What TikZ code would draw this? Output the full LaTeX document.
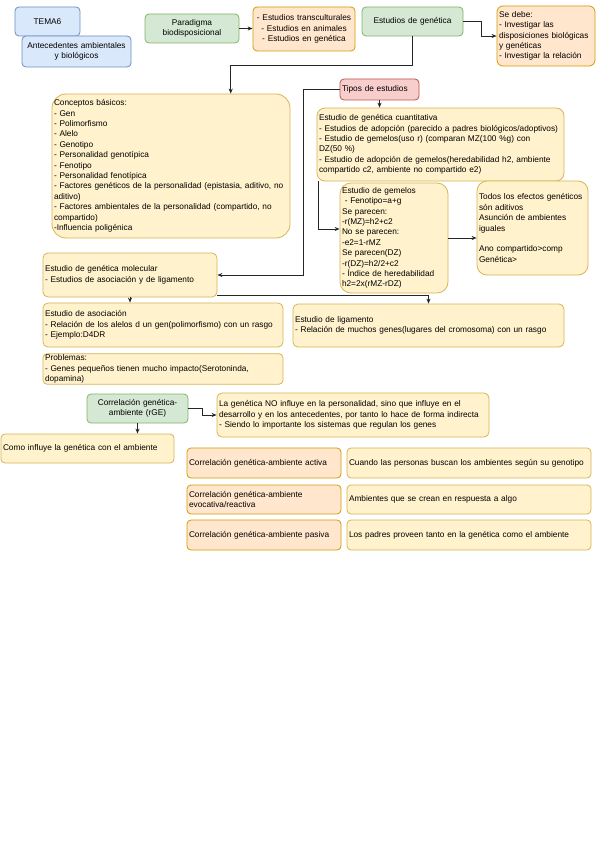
\documentclass[tikz,border=0pt]{standalone}
\usepackage{fontspec}
\setmainfont{Liberation Sans}
\usetikzlibrary{arrows.meta,calc}
\definecolor{yelfill}{HTML}{FFF2CC}
\definecolor{yeldraw}{HTML}{D6B656}
\definecolor{orgfill}{HTML}{FFE6CC}
\definecolor{orgdraw}{HTML}{D79B00}
\definecolor{grnfill}{HTML}{D5E8D4}
\definecolor{grndraw}{HTML}{82B366}
\definecolor{blufill}{HTML}{DAE8FC}
\definecolor{bludraw}{HTML}{6C8EBF}
\definecolor{redfill}{HTML}{F8CECC}
\definecolor{reddraw}{HTML}{B85450}
\begin{document}
\begin{tikzpicture}[x=1pt, y=-1pt,
        box/.style={rectangle, rounded corners=4pt, draw, line width=0.8pt, align=left,
            inner xsep=2pt, inner ysep=1pt, font=\fontsize{8.3}{10.4}\selectfont},
        yel/.style={box, fill=yelfill, draw=yeldraw},
        org/.style={box, fill=orgfill, draw=orgdraw},
        grn/.style={box, fill=grnfill, draw=grndraw, align=center},
        blu/.style={box, fill=blufill, draw=bludraw, align=center},
        rd/.style={box, fill=redfill, draw=reddraw},
        arrow/.style={-{Stealth[length=5pt,width=4pt]}, line width=0.8pt, draw=black!85}
    ]
        \path[use as bounding box, fill=white] (0,0) rectangle (599,848);

        % Nodes
        \node[blu, text width=61pt, minimum height=29pt] (tema) at (47.5,21.5) {TEMA6};
        \node[blu, text width=105pt, minimum height=31pt] (antec) at (76.5,51.5) {Antecedentes ambientales\\y biológicos};
        \node[grn, text width=90pt, minimum height=29pt] (paradigma) at (192,28.5) {Paradigma\\biodisposicional};
        \node[org, align=center, text width=98pt, minimum height=44pt] (transc) at (304,29) {- Estudios transculturales\\- Estudios en animales\\- Estudios en genética};
        \node[grn, text width=97pt, minimum height=29pt] (genetica) at (412.5,21.5) {Estudios de genética};
        \node[org, text width=94pt, minimum height=60pt, rounded corners=6pt] (sedebe) at (546,36) {Se debe:\\- Investigar las\\disposiciones biológicas\\y genéticas\\- Investigar la relación};
        \node[rd, text width=75pt, minimum height=21pt] (tipos) at (379.5,89.5) {Tipos de estudios};
        \node[yel, text width=234pt, minimum height=144pt, rounded corners=14pt] (concepts) at (171,166) {Conceptos básicos:\\- Gen\\- Polimorfismo\\- Alelo\\- Genotipo\\- Personalidad genotípica\\- Fenotipo\\- Personalidad fenotípica\\- Factores genéticos de la personalidad (epistasia, aditivo, no\\aditivo)\\- Factores ambientales de la personalidad (compartido, no\\compartido)\\-Influencia poligénica};
        \node[yel, text width=243pt, minimum height=73pt, rounded corners=8pt] (cuant) at (440.5,144.5) {Estudio de genética cuantitativa\\- Estudios de adopción (parecido a padres biológicos/adoptivos)\\- Estudio de gemelos(uso r) (comparan MZ(100 \%g) con\\DZ(50 \%)\\- Estudio de adopción de gemelos(heredabilidad h2, ambiente\\compartido c2, ambiente no compartido e2)};
        \node[yel, text width=104pt, minimum height=110pt, rounded corners=11pt] (gemelos) at (394,238) {Estudio de gemelos\\\ - Fenotipo=a+g\\Se parecen:\\-r(MZ)=h2+c2\\No se parecen:\\-e2=1-rMZ\\Se parecen(DZ)\\-r(DZ)=h2/2+c2\\- Índice de heredabilidad\\h2=2x(rMZ-rDZ)};
        \node[yel, text width=107pt, minimum height=94pt, rounded corners=10pt] (todos) at (532.5,228) {Todos los efectos genéticos\\són aditivos\\Asunción de ambientes\\iguales\\[10.4pt]Ano compartido>comp\\Genética>};
        \node[yel, text width=170pt, minimum height=44pt, rounded corners=5pt] (molec) at (130,275) {Estudio de genética molecular\\- Estudios de asociación y de ligamento};
        \node[yel, text width=236pt, minimum height=44pt, rounded corners=5pt] (asoc) at (163,325) {Estudio de asociación\\- Relación de los alelos d un gen(polimorfismo) con un rasgo\\- Ejemplo:D4DR};
        \node[yel, text width=236pt, minimum height=30pt] (probl) at (163,369) {Problemas:\\- Genes pequeños tienen mucho impacto(Serotoninda,\\dopamina)};
        \node[yel, text width=267pt, minimum height=43pt, rounded corners=5pt] (ligam) at (428.5,325.5) {Estudio de ligamento\\- Relación de muchos genes(lugares del cromosoma) con un rasgo};
        \node[grn, text width=97pt, minimum height=29pt] (rge) at (137.5,408.5) {Correlación genética-\\ambiente (rGE)};
        \node[yel, text width=169pt, minimum height=29pt] (como) at (87.5,448.5) {Como influye la genética con el ambiente};
        \node[yel, text width=268pt, minimum height=44pt, rounded corners=5pt] (noinf) at (353,415) {La genética NO influye en la personalidad, sino que influye en el\\desarrollo y en los antecedentes, por tanto lo hace de forma indirecta\\- Siendo lo importante los sistemas que regulan los genes};
        \node[org, text width=150pt, minimum height=30pt] (activa) at (264,463) {Correlación genética-ambiente activa};
        \node[yel, text width=240pt, minimum height=30pt] (activad) at (469,463) {Cuando las personas buscan los ambientes según su genotipo};
        \node[org, text width=150pt, minimum height=29pt] (evoc) at (264,499.5) {Correlación genética-ambiente\\evocativa/reactiva};
        \node[yel, text width=240pt, minimum height=29pt] (evocd) at (469,499.5) {Ambientes que se crean en respuesta a algo};
        \node[org, text width=150pt, minimum height=30pt] (pasiva) at (264,535) {Correlación genética-ambiente pasiva};
        \node[yel, text width=240pt, minimum height=30pt] (pasivad) at (469,535) {Los padres proveen tanto en la genética como el ambiente};

        % Arrows
        \draw[arrow] (paradigma.east) -- (paradigma.east -| transc.west);
        \draw[arrow] (genetica.east) -- ++(18,0) |- (sedebe.west);
        \draw[arrow] (genetica.south) -- ++(0,29) -| ($(concepts.north east)!0.5!(concepts.north)$);
        \draw[arrow] (tipos.west) -- ++(-36,0) |- (molec.east);
        \draw[arrow] (tipos.south) -- (tipos.south |- cuant.north);
        \draw[arrow] ($(cuant.south west)+(2,0)$) |- ($(gemelos.west)+(0,-9)$);
        \draw[arrow] (gemelos.east) -- (gemelos.east -| todos.west);
        \draw[arrow] (molec.south) -- (molec.south |- asoc.north);
        \draw[arrow] ($(molec.south east)+(0,-2)$) -| (ligam.north);
        \draw[arrow] (rge.south) -- (rge.south |- como.north);
        \draw[arrow] (rge.east) -- ++(14,0) |- (noinf.west);
    \end{tikzpicture}
\end{document}
